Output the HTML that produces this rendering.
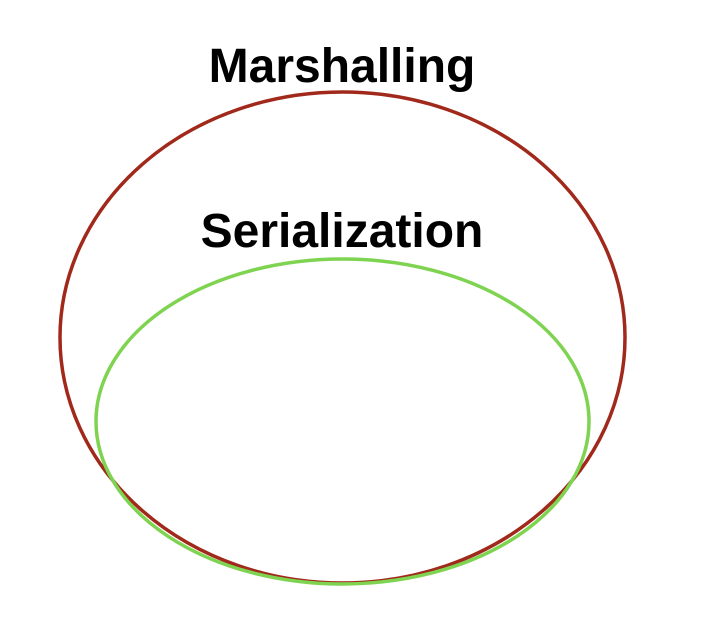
<!DOCTYPE html>
<html><head><style>html,body{margin:0;padding:0;background:#fff;}</style></head>
<body>
<svg width="704" height="624" xmlns="http://www.w3.org/2000/svg">
<rect width="704" height="624" fill="#fff"/>
<ellipse cx="342.5" cy="337.5" rx="282.5" ry="245.5" fill="none" stroke="#a0291b" stroke-width="3.5"/>
<ellipse cx="342.5" cy="421.5" rx="246.5" ry="162.5" fill="none" stroke="#7ed350" stroke-width="3.5"/>
<text x="342" y="82" text-anchor="middle" font-family="Liberation Sans, sans-serif" font-weight="bold" font-size="48" fill="#000">Marshalling</text>
<text x="342" y="247" text-anchor="middle" font-family="Liberation Sans, sans-serif" font-weight="bold" font-size="48" fill="#000">Serialization</text>
</svg>
</body></html>
